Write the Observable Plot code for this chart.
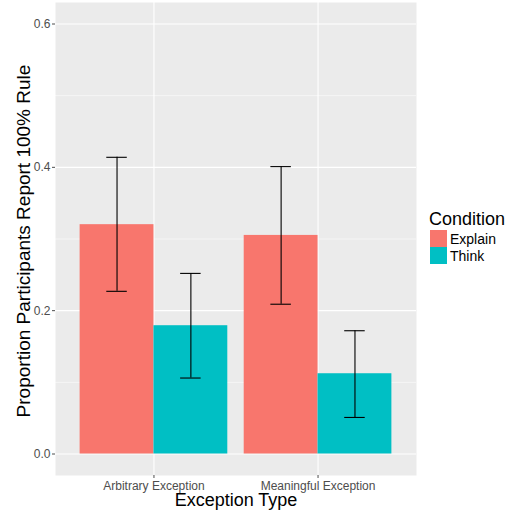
<!DOCTYPE html>
<html>
<head>
<meta charset="utf-8">
<script src="https://cdn.jsdelivr.net/npm/d3@7"></script>
<script src="https://cdn.jsdelivr.net/npm/@observablehq/plot@0.6"></script>
<style>
  html, body { margin: 0; padding: 0; background: white; }
  #wrap { position: relative; width: 511px; height: 512px; }
  #legend { position: absolute; left: 0; top: 0; }
</style>
</head>
<body>
<div id="wrap"></div>
<script>
const categories = ["Arbitrary Exception", "Meaningful Exception"];
const conditions = ["Explain", "Think"];
const conditionColors = ["#F8766D", "#00BFC4"];
const explainMean = [0.320, 0.305];
const explainLo = [0.227, 0.209];
const explainHi = [0.414, 0.401];
const thinkMean = [0.179, 0.112];
const thinkLo = [0.106, 0.051];
const thinkHi = [0.252, 0.172];
const yTicks = [0, 0.2, 0.4, 0.6];
const yMinor = [0.1, 0.3, 0.5];
const xTitle = "Exception Type";
const yTitle = "Proportion Participants Report 100% Rule";
const legendTitle = "Condition";

const series = [
  {cond: conditions[0], mean: explainMean, lo: explainLo, hi: explainHi},
  {cond: conditions[1], mean: thinkMean, lo: thinkLo, hi: thinkHi}
];
const dodge = 0.45;
const rows = [];
categories.forEach((cat, i) => {
  series.forEach((s, j) => {
    const x1 = (i + 1) - dodge + j * dodge;
    rows.push({cat, cond: s.cond, x1, x2: x1 + dodge, xc: x1 + dodge / 2,
      mean: s.mean[i], lo: s.lo[i], hi: s.hi[i]});
  });
});
const capHalf = 0.0625;

const font = "'Liberation Sans', Arial, Helvetica, sans-serif";
const chart = Plot.plot({
  width: 511,
  height: 512,
  marginLeft: 55,
  marginRight: 95,
  marginTop: 2,
  marginBottom: 37,
  style: {fontFamily: font, background: "white"},
  x: {domain: [0.4, 2.6]},
  y: {domain: [-0.03, 0.63]},
  color: {domain: conditions, range: conditionColors},
  marks: [
    Plot.frame({fill: "#EBEBEB", stroke: null}),
    Plot.ruleY(yMinor, {stroke: "white", strokeWidth: 0.55}),
    Plot.ruleY(yTicks, {stroke: "white", strokeWidth: 1.1}),
    Plot.ruleX([1, 2], {stroke: "white", strokeWidth: 1.1}),
    Plot.rectY(rows, {x1: "x1", x2: "x2", y1: 0, y2: "mean", fill: "cond"}),
    Plot.ruleX(rows, {x: "xc", y1: "lo", y2: "hi", stroke: "black", strokeWidth: 1.1}),
    Plot.ruleY(rows, {y: "hi", x1: d => d.xc - capHalf, x2: d => d.xc + capHalf, stroke: "black", strokeWidth: 1.1}),
    Plot.ruleY(rows, {y: "lo", x1: d => d.xc - capHalf, x2: d => d.xc + capHalf, stroke: "black", strokeWidth: 1.1}),
    Plot.axisY(yTicks, {tickSize: 3, tickPadding: 2, fontSize: 12, color: "#4D4D4D", tickFormat: d => d.toFixed(1), label: null}),
    Plot.axisX([1, 2], {tickSize: 3, tickPadding: 3, fontSize: 12, color: "#4D4D4D", tickFormat: d => categories[d - 1], label: null}),
    Plot.text([yTitle], {frameAnchor: "left", dx: -32, dy: 2, rotate: -90, fontSize: 19, fill: "black", lineAnchor: "middle", textAnchor: "middle"}),
    Plot.text([xTitle], {frameAnchor: "bottom", dy: 25, fontSize: 18, fill: "black", lineAnchor: "middle", textAnchor: "middle"})
  ]
});
const wrap = document.getElementById("wrap");
wrap.appendChild(chart);

// Legend overlay
const leg = d3.select(wrap).append("svg")
  .attr("id", "legend").attr("width", 511).attr("height", 512)
  .style("font-family", font);
leg.append("text").attr("x", 429).attr("y", 225).attr("font-size", 18).attr("fill", "black").text(legendTitle);
conditions.forEach((c, k) => {
  const top = 230 + k * 17;
  leg.append("rect").attr("x", 430).attr("y", top).attr("width", 17).attr("height", 17).attr("fill", conditionColors[k]);
  leg.append("text").attr("x", 450).attr("y", top + 13.5).attr("font-size", 14).attr("fill", "black").text(c);
});
</script>
</body>
</html>
